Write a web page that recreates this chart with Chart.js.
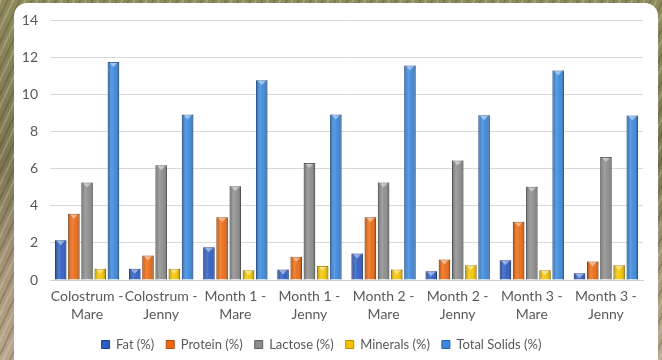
<!DOCTYPE html>
<html>
<head>
<meta charset="utf-8">
<script src="https://cdn.jsdelivr.net/npm/chart.js@4/dist/chart.umd.min.js"></script>
<style>
  html, body { margin: 0; padding: 0; }
  body {
    width: 662px; height: 360px; overflow: hidden; position: relative;
    background:
      repeating-linear-gradient(115deg, rgba(255,255,240,0.18) 0 2px, rgba(0,0,0,0) 2px 6px, rgba(40,40,20,0.2) 6px 8px, rgba(0,0,0,0) 8px 11px),
      linear-gradient(180deg, #8f8a5c 0%, #7c7550 45%, #a8957a 75%, #b9a68c 100%);
  }
  #panel {
    position: absolute; left: 14px; top: 3px; width: 644px; height: 372px;
    background: #fff; border-radius: 13px;
  }
  #wrap { position: absolute; left: 0; top: 0; width: 662px; height: 360px; }
</style>
</head>
<body>
<div id="panel"></div>
<div id="wrap"><canvas id="chart" width="662" height="360"></canvas></div>
<script>
// milk composition
const categories = [
  ['Colostrum -', 'Mare'], ['Colostrum -', 'Jenny'],
  ['Month 1 -', 'Mare'], ['Month 1 -', 'Jenny'],
  ['Month 2 -', 'Mare'], ['Month 2 -', 'Jenny'],
  ['Month 3 -', 'Mare'], ['Month 3 -', 'Jenny']
];
const fat      = [2.15, 0.60, 1.76, 0.57, 1.43, 0.47, 1.07, 0.36];
const protein  = [3.57, 1.32, 3.39, 1.25, 3.39, 1.10, 3.14, 1.00];
const lactose  = [5.26, 6.19, 5.06, 6.31, 5.26, 6.45, 5.03, 6.63];
const minerals = [0.61, 0.60, 0.53, 0.75, 0.57, 0.80, 0.52, 0.80];
const solids   = [11.76, 8.93, 10.77, 8.93, 11.57, 8.88, 11.30, 8.87];
const yTicks   = [0, 2, 4, 6, 8, 10, 12, 14];

const font = "Lato, 'Open Sans', sans-serif";

// cylinder-ish shading over each bar
const shade = {
  id: 'shade',
  afterDatasetsDraw(chart) {
    const ctx = chart.ctx;
    chart.data.datasets.forEach((ds, i) => {
      chart.getDatasetMeta(i).data.forEach(bar => {
        const left = bar.x - bar.width / 2;
        const top = Math.min(bar.y, bar.base);
        const h = Math.abs(bar.base - bar.y);
        const g = ctx.createLinearGradient(left, 0, left + bar.width, 0);
        g.addColorStop(0, 'rgba(0,0,0,0.25)');
        g.addColorStop(0.35, 'rgba(255,255,255,0.18)');
        g.addColorStop(0.6, 'rgba(255,255,255,0.05)');
        g.addColorStop(1, 'rgba(0,0,0,0.3)');
        ctx.save();
        ctx.fillStyle = g;
        ctx.fillRect(left, top, bar.width, h);
        // light cap on top
        ctx.fillStyle = 'rgba(255,255,255,0.45)';
        ctx.beginPath();
        ctx.moveTo(left + 2, top + 1);
        ctx.lineTo(left + bar.width - 2, top + 1);
        ctx.lineTo(bar.x, top + 5);
        ctx.closePath();
        ctx.fill();
        ctx.restore();
      });
    });
  }
};

const mk = (label, data, color, border) => ({
  label, data,
  backgroundColor: color,
  borderColor: border,
  borderWidth: 1,
  categoryPercentage: 0.89,
  barPercentage: 0.87
});

new Chart(document.getElementById('chart'), {
  type: 'bar',
  data: {
    labels: categories,
    datasets: [
      mk('Fat (%)', fat, '#2e5dc4', '#1d3f8f'),
      mk('Protein (%)', protein, '#ec6a12', '#b0490a'),
      mk('Lactose (%)', lactose, '#8c8c8c', '#5e5e5e'),
      mk('Minerals (%)', minerals, '#f4c400', '#b98f00'),
      mk('Total Solids (%)', solids, '#3a88dc', '#2461a8')
    ]
  },
  options: {
    responsive: false,
    animation: false,
    devicePixelRatio: 1,
    layout: { padding: { top: 12, right: 19, bottom: -1, left: 0 } },
    scales: {
      x: {
        afterFit: s => { s.height = 46; },
        grid: { display: false, drawTicks: false },
        border: { color: '#d0d0d0' },
        ticks: { color: '#595959', font: { family: font, size: 14, lineHeight: 1.25 }, padding: 8, maxRotation: 0, autoSkip: false }
      },
      y: {
        min: 0, max: 14,
        afterBuildTicks: s => { s.ticks = yTicks.map(v => ({ value: v })); },
        afterFit: s => { s.width = 50; },
        grid: { color: '#d9d9d9', drawTicks: false },
        border: { display: false },
        ticks: { color: '#595959', font: { family: font, size: 14 }, padding: 12 }
      }
    },
    plugins: {
      legend: {
        position: 'bottom',
        labels: {
          boxWidth: 8, boxHeight: 8, padding: 12,
          color: '#595959', font: { family: font, size: 13 }
        }
      },
      tooltip: { enabled: false }
    }
  },
  plugins: [shade]
});
</script>
</body>
</html>
